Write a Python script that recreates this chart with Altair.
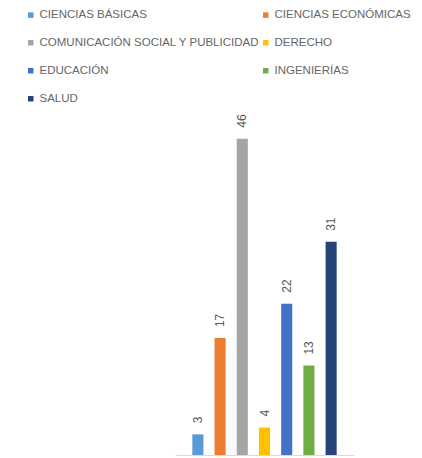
import altair as alt
import pandas as pd

categories = ["CIENCIAS BÁSICAS", "CIENCIAS ECONÓMICAS", "COMUNICACIÓN SOCIAL Y PUBLICIDAD",
              "DERECHO", "EDUCACIÓN", "INGENIERÍAS", "SALUD"]
values = [3, 17, 46, 4, 22, 13, 31]
colors = ["#5B9BD5", "#ED7D31", "#A5A5A5", "#FFC000", "#4472C4", "#70AD47", "#264478"]

df = pd.DataFrame({"cat": categories, "val": values})

xenc = alt.X("cat:N", sort=categories,
             scale=alt.Scale(range=[167, 346], paddingInner=0.5, paddingOuter=0.78),
             axis=alt.Axis(labels=False, ticks=False, title=None, domainColor="#d9d9d9", domainWidth=1))
yenc = alt.Y("val:Q", scale=alt.Scale(domain=[0, 65]), axis=None)

bars = alt.Chart(df).mark_bar().encode(
    x=xenc, y=yenc,
    color=alt.Color("cat:N", sort=categories,
                    scale=alt.Scale(domain=categories, range=colors),
                    legend=alt.Legend(title=None, orient="none", legendX=17, legendY=1,
                                      direction="horizontal",
                                      columns=2, columnPadding=-5, rowPadding=15,
                                      symbolType="square", symbolSize=30, symbolStrokeWidth=0,
                                      labelFontSize=11.5, labelColor="#666666",
                                      labelFont="Liberation Sans", labelLimit=400,
                                      symbolOffset=0, labelOffset=3))
)

labels = alt.Chart(df).mark_text(angle=270, align="left", baseline="middle", dx=11,
                                 fontSize=12, color="#595959", font="Liberation Sans").encode(
    x=xenc, y=yenc, text="val:Q")

chart = (bars + labels).properties(
    width=406, height=447,
    autosize=alt.AutoSizeParams(type="none"),
    padding={"left": 0, "top": 0, "right": 0, "bottom": 3},
).configure_view(stroke=None)

chart.save("out.html", embed_options={"renderer": "svg", "actions": False})
